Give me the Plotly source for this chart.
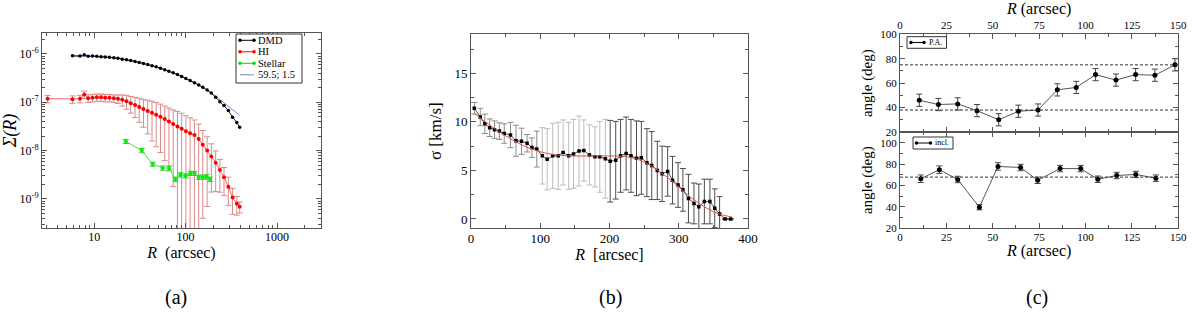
import plotly.graph_objects as go

W, H = 1200, 312
FONT = "Liberation Serif"
AX = "#555555"

# ---------------- Panel (a): surface density profiles ----------------
dmd_R = [5.8, 7.0, 7.8, 8.6, 9.6, 10.7, 11.9, 13.2, 14.7, 16.4, 18.2, 20.3, 22.6, 25.1, 28.0,
         31.1, 34.6, 38.5, 42.9, 47.7, 53.1, 59.1, 65.7, 73.1, 81.4, 90.5, 100.7, 112, 125, 139,
         154, 172, 191, 213, 237, 263, 293, 326, 363, 390]
dmd_S = [9.12e-7, 9.02e-7, 9.55e-7, 8.91e-7, 9.02e-7, 8.91e-7, 8.71e-7, 8.61e-7, 8.51e-7, 8.32e-7,
         8.13e-7, 7.76e-7, 7.50e-7, 7.24e-7, 6.92e-7, 6.61e-7, 6.31e-7, 6.03e-7, 5.69e-7, 5.37e-7,
         5.01e-7, 4.68e-7, 4.37e-7, 4.07e-7, 3.72e-7, 3.39e-7, 3.09e-7, 2.82e-7, 2.51e-7, 2.26e-7,
         2.04e-7, 1.78e-7, 1.55e-7, 1.26e-7, 1.02e-7, 8.51e-8, 6.76e-8, 4.90e-8, 3.80e-8, 3.02e-8]

fit_R = [5.8, 10, 20, 40, 70, 100, 150, 200, 250, 300, 350, 390]
fit_S = [8.9e-7, 8.8e-7, 7.9e-7, 5.9e-7, 4.2e-7, 3.1e-7, 2.09e-7, 1.45e-7, 1.05e-7, 7.9e-8, 6.3e-8, 5.25e-8]

hi_R = [3.1, 5.8, 7.0, 7.8, 8.6, 9.6, 10.7, 11.9, 13.2, 14.7, 16.4, 18.2, 20.3, 22.6, 25.1, 28.0,
        31.1, 34.6, 38.5, 42.9, 47.7, 53.1, 59.1, 65.7, 73.1, 81.4, 90.5, 100.7, 112, 125, 139,
        154, 172, 191, 213, 237, 263, 293, 326, 363, 390]
hi_S = [1.175e-7, 1.148e-7, 1.175e-7, 1.445e-7, 1.202e-7, 1.23e-7, 1.259e-7, 1.259e-7, 1.23e-7,
        1.23e-7, 1.202e-7, 1.175e-7, 1.122e-7, 1.047e-7, 9.55e-8, 8.71e-8, 7.94e-8, 7.24e-8,
        6.61e-8, 6.03e-8, 5.50e-8, 5.01e-8, 4.47e-8, 3.98e-8, 3.55e-8, 3.16e-8, 2.82e-8, 2.51e-8,
        2.29e-8, 2.09e-8, 1.74e-8, 1.32e-8, 1.0e-8, 7.59e-9, 5.62e-9, 3.98e-9, 2.82e-9, 1.78e-9,
        1.07e-9, 7.94e-10, 6.92e-10]
hi_err = [2.06e-8, 2.0e-8, 2.06e-8, 2.5e-8, 2.1e-8, 2.15e-8, 2.2e-8, 2.2e-8, 2.15e-8, 2.15e-8,
          2.1e-8, 2.35e-8, 2.9e-8, 3.35e-8, 3.6e-8, 3.9e-8, 4.1e-8, 4.2e-8, 4.4e-8, 4.45e-8,
          4.3e-8, 4.1e-8, 3.85e-8, 3.6e-8, 3.37e-8, 3.3e-8, 3.1e-8, 2.76e-8, 2.47e-8, 2.2e-8,
          1.78e-8, 1.28e-8, 9.3e-9, 6.2e-9, 4.2e-9, 2.6e-9, 1.65e-9, 1.04e-9, 5.9e-10, 3.3e-10,
          1.8e-10]

st_R = [22.2, 33.2, 43.6, 56, 66, 77, 87.5, 100, 113, 125, 139, 154, 170, 185]
st_S = [1.55e-8, 1.0e-8, 5.25e-9, 4.37e-9, 4.37e-9, 2.57e-9, 3.16e-9, 3.02e-9, 3.39e-9, 3.39e-9,
        2.82e-9, 2.82e-9, 2.88e-9, 2.57e-9]
st_err = [1.5e-9, 1.0e-9, 5.0e-10, 4.4e-10, 4.4e-10, 2.6e-10, 3.2e-10, 3.0e-10, 3.4e-10, 3.4e-10,
          2.8e-10, 2.8e-10, 2.9e-10, 2.6e-10]

legend_a = ["DMD", "HI", "Stellar", "59.5; 1.5"]

# ---------------- Panel (b): velocity dispersion ----------------
sig_R = [4.8, 13.4, 20, 27, 34, 41, 48, 57, 65, 73, 81, 88, 95, 103, 110, 118, 126, 133, 141, 148,
         156, 163, 171, 179, 186, 194, 201, 209, 216, 224, 231, 239, 246, 254, 261, 269, 276, 284,
         291, 299, 306, 314, 322, 329, 337, 345, 352, 359, 367, 375]
sig_v = [11.4, 10.5, 9.8, 9.4, 9.2, 9.05, 8.8, 8.65, 8.05, 8.0, 7.8, 7.35, 7.2, 6.5, 6.15, 6.5, 6.5,
         6.85, 6.5, 6.7, 7.0, 7.05, 6.6, 6.4, 6.4, 6.2, 5.95, 6.05, 6.5, 6.75, 6.5, 6.25, 6.3, 5.8,
         5.5, 5.0, 4.65, 4.9, 4.0, 3.5, 3.0, 2.1, 1.6, 1.25, 1.8, 1.8, 1.1, 0.5, 0.0, 0.0]
sig_err = [0.6, 0.9, 1.0, 0.9, 0.9, 0.85, 1.0, 1.3, 1.6, 1.35, 0.9, 1.0, 1.85, 2.9, 3.15, 3.35,
           3.45, 3.35, 3.45, 3.55, 3.6, 3.15, 3.1, 3.1, 3.65, 4.05, 4.2, 4.0, 3.75, 3.75, 3.75,
           3.85, 3.75, 3.5, 3.5, 3.0, 2.85, 2.55, 2.45, 2.3, 2.2, 2.5, 2.1, 2.35, 2.3, 2.3, 2.0,
           1.8, 0.0, 0.0]
sig_groups = [(0, 13, "#8c8c8c"), (13, 26, "#bdbdbd"), (26, 50, "#4d4d4d")]

fitb_R = [4.6, 27, 56, 85, 114, 143, 191, 225, 249, 273, 297, 316, 336, 355, 370, 377]
fitb_v = [10.9, 9.67, 8.3, 7.27, 6.7, 6.5, 6.5, 6.4, 5.9, 4.85, 3.5, 2.3, 1.3, 0.6, 0.3, 0.2]

# ---------------- Panel (c): position angle and inclination ----------------
pa_R = [10.4, 20.7, 31.1, 41.5, 53.2, 63.8, 74.4, 84.8, 95.0, 105.4, 116.4, 127.0, 137.4, 148.2]
pa_v = [46.0, 42.5, 43.0, 37.5, 30.0, 37.0, 38.0, 54.5, 56.5, 67.0, 62.5, 67.0, 66.5, 75.0]
pa_err = [5, 5, 5, 5, 5, 5, 5, 5, 5, 5, 5, 5, 5, 5]
pa_ref = [75, 38]

inc_R = [11.2, 21.2, 31.1, 42.8, 52.8, 65.0, 74.2, 86.3, 97.4, 106.6, 116.8, 127.1, 137.9]
inc_v = [66.5, 75.0, 65.8, 39.8, 78.0, 77.0, 65.0, 76.0, 76.0, 66.0, 69.5, 70.5, 67.0]
inc_err = [3.5, 3.5, 3, 2.5, 3.5, 3, 3, 3, 3, 3, 3, 3, 3]
inc_ref = [68]

captions = ["(a)", "(b)", "(c)"]


def px(x):
    return x / W


def py(y):
    return 1 - y / H


def f(size):
    return dict(family=FONT, size=size, color="black")


fig = go.Figure()

# ---- panel (a) traces
fig.add_trace(go.Scatter(x=hi_R, y=hi_S, mode="lines+markers", name="HI", xaxis="x", yaxis="y",
                         line=dict(color="#e07070", width=1),
                         marker=dict(color="#ff0000", size=4),
                         error_y=dict(type="data", array=hi_err, color="#d98a8a", thickness=1, width=3),
                         showlegend=False))
fig.add_trace(go.Scatter(x=st_R, y=st_S, mode="lines+markers", name="Stellar", xaxis="x", yaxis="y",
                         line=dict(color="#55dd55", width=1),
                         marker=dict(color="#00ee00", size=4),
                         error_y=dict(type="data", array=st_err, color="#33cc33", thickness=1, width=3),
                         showlegend=False))
fig.add_trace(go.Scatter(x=fit_R, y=fit_S, mode="lines", name="59.5; 1.5", xaxis="x", yaxis="y",
                         line=dict(color="#8080d0", width=1, shape="spline"), showlegend=False))
fig.add_trace(go.Scatter(x=dmd_R, y=dmd_S, mode="lines+markers", name="DMD", xaxis="x", yaxis="y",
                         line=dict(color="#222222", width=1),
                         marker=dict(color="#000000", size=3.5), showlegend=False))

# ---- panel (b) traces
for i0, i1, col in sig_groups:
    fig.add_trace(go.Scatter(x=sig_R[i0:i1], y=sig_v[i0:i1], mode="markers", xaxis="x2", yaxis="y2",
                             marker=dict(size=1, color="rgba(0,0,0,0)"),
                             error_y=dict(type="data", array=sig_err[i0:i1], color=col, thickness=1, width=3),
                             showlegend=False, hoverinfo="skip"))
fig.add_trace(go.Scatter(x=sig_R, y=sig_v, mode="lines+markers", xaxis="x2", yaxis="y2",
                         line=dict(color="#555555", width=1),
                         marker=dict(color="#000000", size=3.5, symbol="square"), showlegend=False))
fig.add_trace(go.Scatter(x=fitb_R, y=fitb_v, mode="lines", xaxis="x2", yaxis="y2",
                         line=dict(color="#e05050", width=1, shape="spline"), showlegend=False))

# ---- panel (c) traces
fig.add_trace(go.Scatter(x=pa_R, y=pa_v, mode="lines+markers", name="P.A.", xaxis="x3", yaxis="y3",
                         line=dict(color="#555555", width=1),
                         marker=dict(color="#000000", size=5),
                         error_y=dict(type="data", array=pa_err, color="#444444", thickness=1, width=3),
                         showlegend=False))
fig.add_trace(go.Scatter(x=inc_R, y=inc_v, mode="lines+markers", name="incl.", xaxis="x4", yaxis="y4",
                         line=dict(color="#555555", width=1),
                         marker=dict(color="#000000", size=5),
                         error_y=dict(type="data", array=inc_err, color="#444444", thickness=1, width=3),
                         showlegend=False))


def axis(**kw):
    d = dict(showline=True, linecolor=AX, linewidth=1, mirror="allticks", ticks="inside",
             ticklen=5, tickcolor=AX, tickwidth=1, showgrid=False, zeroline=False,
             automargin=False, tickfont=f(12))
    d.update(kw)
    return d


def minor(**kw):
    d = dict(ticks="inside", ticklen=3, tickcolor=AX, showgrid=False)
    d.update(kw)
    return d


logx_minor = [3, 4, 5, 6, 7, 8, 9, 20, 30, 40, 50, 60, 70, 80, 90, 200, 300, 400, 500, 600, 700,
              800, 900, 2000, 3000]
logy_minor = [3e-10, 4e-10, 5e-10, 6e-10, 7e-10, 8e-10, 9e-10, 2e-9, 3e-9, 4e-9, 5e-9, 6e-9, 7e-9,
              8e-9, 9e-9, 2e-8, 3e-8, 4e-8, 5e-8, 6e-8, 7e-8, 8e-8, 9e-8, 2e-7, 3e-7, 4e-7, 5e-7,
              6e-7, 7e-7, 8e-7, 9e-7, 2e-6]

dom_a = [px(42), px(321)]
dom_b = [px(471), px(748)]
dom_c = [px(900), px(1178.3)]
c_mid = 132

fig.update_layout(
    width=W, height=H, margin=dict(l=0, r=0, t=0, b=0, autoexpand=False),
    paper_bgcolor="white", plot_bgcolor="white",
    font=dict(family=FONT, color="black"),
    showlegend=False,
    xaxis=axis(type="log", domain=dom_a, anchor="y", range=[0.43, 3.48],
               tickmode="array", tickvals=[10, 100, 1000], ticktext=["10", "100", "1000"],
               ticklabelstandoff=-2,
               minor=minor(tickmode="array", tickvals=logx_minor),
               title=dict(text="<i>R</i> \u00a0(arcsec)", standoff=0, font=f(16))),
    yaxis=axis(type="log", domain=[py(228), py(33)], anchor="x", range=[-9.6, -5.57],
               tickmode="array", tickvals=[1e-9, 1e-8, 1e-7, 1e-6],
               ticktext=["10<sup>-9</sup>", "10<sup>-8</sup>", "10<sup>-7</sup>", "10<sup>-6</sup>"],
               tickfont=f(12),
               minor=minor(tickmode="array", tickvals=logy_minor),
               title=dict(text="<i>Σ(R)</i>", standoff=4, font=f(18))),
    xaxis2=axis(domain=dom_b, anchor="y2", range=[0, 400], dtick=100, tick0=0,
                tickfont=f(13), ticklabelstandoff=-2,
                minor=minor(dtick=50),
                title=dict(text="<i>R</i> \u00a0[arcsec]", standoff=0, font=f(16))),
    yaxis2=axis(domain=[py(228.3), py(34)], anchor="x2", range=[-0.96, 19.05],
                tickmode="array", tickvals=[0, 5, 10, 15], tickfont=f(13),
                minor=minor(tickmode="linear", dtick=2.5, tick0=0),
                title=dict(text="σ [km/s]", standoff=8, font=f(17))),
    xaxis3=axis(domain=dom_c, anchor="y3", side="top", range=[0, 150], dtick=25, tick0=0,
                tickfont=f(11),
                minor=minor(dtick=12.5),
                title=dict(text="<i>R</i> (arcsec)", standoff=0, font=f(16))),
    yaxis3=axis(domain=[py(c_mid), py(34.3)], anchor="x3", range=[20, 100], dtick=20, tick0=20,
                tickfont=f(11),
                minor=minor(dtick=10, tick0=0),
                title=dict(text="angle (deg)", standoff=4, font=f(15))),
    xaxis4=axis(domain=dom_c, anchor="y4", range=[0, 150], dtick=25, tick0=0,
                tickfont=f(11), ticklabelstandoff=-2,
                minor=minor(dtick=12.5),
                title=dict(text="<i>R</i> (arcsec)", standoff=0, font=f(16))),
    yaxis4=axis(domain=[py(228.3), py(c_mid)], anchor="x4", range=[20, 110.3], dtick=20, tick0=20,
                tickfont=f(11),
                minor=minor(dtick=10, tick0=0),
                title=dict(text="angle (deg)", standoff=4, font=f(15))),
)

shapes = []
annotations = []

# dashed reference lines in panel (c)
for v in pa_ref:
    shapes.append(dict(type="line", xref="x3 domain", yref="y3", x0=0, x1=1, y0=v, y1=v,
                       line=dict(color="#333333", width=1, dash="3px,2px")))
for v in inc_ref:
    shapes.append(dict(type="line", xref="x4 domain", yref="y4", x0=0, x1=1, y0=v, y1=v,
                       line=dict(color="#333333", width=1, dash="3px,2px")))


def legend_entry(x0, x1, y, color, label, size, dots=True, textx=None):
    shapes.append(dict(type="line", xref="paper", yref="paper", x0=px(x0), x1=px(x1),
                       y0=py(y), y1=py(y), line=dict(color=color, width=1)))
    if dots:
        for xx in (x0, x1):
            shapes.append(dict(type="circle", xref="paper", yref="paper", xsizemode="pixel",
                               ysizemode="pixel", xanchor=px(xx), yanchor=py(y),
                               x0=-1.8, x1=1.8, y0=-1.8, y1=1.8,
                               fillcolor=color, line=dict(width=0)))
    annotations.append(dict(xref="paper", yref="paper", x=px(textx), y=py(y),
                            text=label, showarrow=False, xanchor="left", yanchor="middle",
                            borderpad=0, font=f(size)))


# legend box of panel (a)
shapes.append(dict(type="rect", xref="paper", yref="paper", x0=px(236), x1=px(302),
                   y0=py(83), y1=py(34), line=dict(color="#333333", width=1), fillcolor="white",
                   layer="above"))
leg_cols = ["#000000", "#ff0000", "#00dd00", "#8080d0"]
leg_y = [40.3, 51.8, 63.3, 74.8]
for lab, col, yy in zip(legend_a, leg_cols, leg_y):
    legend_entry(240, 254, yy, col, lab, 10.5, dots=(lab != legend_a[3]), textx=257)

# legend boxes of panel (c)
shapes.append(dict(type="rect", xref="paper", yref="paper", x0=px(907), x1=px(946.5),
                   y0=py(48.3), y1=py(36.7), line=dict(color="#333333", width=1), fillcolor="white"))
legend_entry(911, 924, 42.5, "#000000", "P.A.", 8, textx=927.5)
shapes.append(dict(type="rect", xref="paper", yref="paper", x0=px(913), x1=px(953),
                   y0=py(149), y1=py(137), line=dict(color="#333333", width=1), fillcolor="white"))
legend_entry(916.5, 930.5, 143, "#000000", "incl.", 8, textx=934)

# captions
for cap, xc in zip(captions, [176, 610, 1037]):
    annotations.append(dict(xref="paper", yref="paper", x=px(xc), y=py(297), text=cap,
                            showarrow=False, xanchor="center", yanchor="middle", font=f(20)))

fig.update_layout(shapes=shapes, annotations=annotations)
fig.write_html("out.html", config={"displayModeBar": False},
               post_script="document.body.style.margin='0';document.body.style.overflow='hidden';")
